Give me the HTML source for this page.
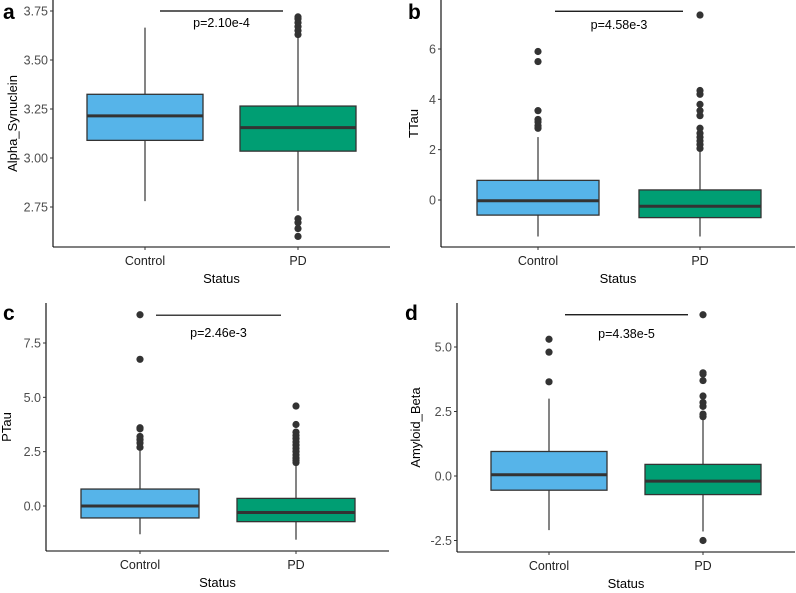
<!DOCTYPE html>
<html><head><meta charset="utf-8"><style>
body{margin:0;background:#fff;}
svg{font-family:"Liberation Sans",Arial,sans-serif;}
</style></head><body>
<svg id="fig" width="796" height="588"></svg>
<script>
const categories = ["Control","PD"];
// panel a
const aTicks=[2.75,3.00,3.25,3.50,3.75];
const aTickLabels=["2.75","3.00","3.25","3.50","3.75"];
const aControl=[2.78,3.09,3.215,3.325,3.665];
const aPD=[2.73,3.035,3.155,3.265,3.62];
const aOutControl=[];
const aOutPD=[3.63,3.65,3.67,3.69,3.71,3.72,2.60,2.64,2.67,2.69];
// panel b
const bTicks=[0,2,4,6];
const bTickLabels=["0","2","4","6"];
const bControl=[-1.45,-0.6,-0.03,0.78,2.5];
const bPD=[-1.45,-0.7,-0.25,0.4,1.95];
const bOutControl=[2.85,2.95,3.1,3.2,3.55,5.5,5.9];
const bOutPD=[2.05,2.2,2.35,2.5,2.65,2.85,3.35,3.55,3.8,4.2,4.35,7.35];
// panel c
const cTicks=[0,2.5,5,7.5];
const cTickLabels=["0.0","2.5","5.0","7.5"];
const cControl=[-1.3,-0.55,0,0.78,2.6];
const cPD=[-1.55,-0.72,-0.3,0.35,1.9];
const cOutControl=[2.7,2.9,3.05,3.2,3.55,3.6,6.75,8.8];
const cOutPD=[2.0,2.1,2.2,2.35,2.5,2.65,2.8,2.95,3.1,3.25,3.4,3.75,4.6];
// panel d
const dTicks=[-2.5,0,2.5,5];
const dTickLabels=["-2.5","0.0","2.5","5.0"];
const dControl=[-2.1,-0.55,0.05,0.95,3.0];
const dPD=[-2.15,-0.72,-0.2,0.45,2.2];
const dOutControl=[3.65,4.8,5.3];
const dOutPD=[2.3,2.4,2.7,2.85,3.1,3.7,3.95,4.0,6.25,-2.5];

const NS="http://www.w3.org/2000/svg";
const svg=document.getElementById('fig');
function mk(tag,attrs,parent,text){const e=document.createElementNS(NS,tag);for(const k in attrs)e.setAttribute(k,attrs[k]);if(text!==undefined)e.textContent=text;parent.appendChild(e);return e;}

const panels=[
 {id:'a',ytitle:'Alpha_Synuclein',tx:17,x0:53,x1:390,top:0,bot:247,v0:3.75,p0:11,v1:2.75,p1:207,cx:[145,298],hw:58,ticks:aTicks,labels:aTickLabels,boxes:[aControl,aPD],outs:[aOutControl,aOutPD],br:[160,283],brv:3.75,pText:'p=2.10e-4',pY:27,letter:[3,19]},
 {id:'b',ytitle:'TTau',tx:418,x0:441,x1:795,top:0,bot:247,v0:6,p0:49,v1:0,p1:200,cx:[538,700],hw:61,ticks:bTicks,labels:bTickLabels,boxes:[bControl,bPD],outs:[bOutControl,bOutPD],br:[555,683],brv:7.5,pText:'p=4.58e-3',pY:29,letter:[408,19]},
 {id:'c',ytitle:'PTau',tx:11,x0:46,x1:389,top:303,bot:551,v0:7.5,p0:343,v1:0,p1:506,cx:[140,296],hw:59,ticks:cTicks,labels:cTickLabels,boxes:[cControl,cPD],outs:[cOutControl,cOutPD],br:[156,281],brv:8.78,pText:'p=2.46e-3',pY:337,letter:[3,320]},
 {id:'d',ytitle:'Amyloid_Beta',tx:420,x0:457,x1:795,top:303,bot:552,v0:5,p0:347,v1:0,p1:476,cx:[549,703],hw:58,ticks:dTicks,labels:dTickLabels,boxes:[dControl,dPD],outs:[dOutControl,dOutPD],br:[565,688],brv:6.25,pText:'p=4.38e-5',pY:338,letter:[405,320]}
];
const fills=['#56B4E9','#009E73'];
panels.forEach(P=>{
  const y=v=>P.p1+(v-P.v1)*(P.p0-P.p1)/(P.v0-P.v1);
  const g=mk('g',{},svg);
  
  
  const L=mk('text',{x:P.letter[0],y:P.letter[1],'font-size':21,'font-weight':'bold',fill:'#000'},g,P.id);
  
  
  const ya=mk('line',{x1:P.x0,x2:P.x0,y1:P.top,y2:P.bot,stroke:'#000','stroke-width':1.1},g);
  
  
  const xa=mk('line',{x1:P.x0,x2:P.x1,y1:P.bot,y2:P.bot,stroke:'#000','stroke-width':1.1},g);
  
  
  P.ticks.forEach((t,i)=>{
    const yy=y(t);
    mk('line',{x1:P.x0-3,x2:P.x0,y1:yy,y2:yy,stroke:'#333','stroke-width':1},g);
    const tl=mk('text',{x:P.x0-5,y:yy+4.5,'font-size':12.5,'text-anchor':'end',fill:'#4d4d4d'},g,P.labels[i]);
    
    
  });
  categories.forEach((c,i)=>{
    const xx=P.cx[i];
    mk('line',{x1:xx,x2:xx,y1:P.bot,y2:P.bot+3,stroke:'#333','stroke-width':1},g);
    const xl=mk('text',{x:xx,y:P.bot+18,'font-size':12.5,'text-anchor':'middle',fill:'#222'},g,c);
    
    
    const b=P.boxes[i];
    const wh=mk('line',{x1:xx,x2:xx,y1:y(b[0]),y2:y(b[4]),stroke:'#333','stroke-width':1.2},g);
    
    
    const r=mk('rect',{x:xx-P.hw,y:y(b[3]),width:2*P.hw,height:y(b[1])-y(b[3]),fill:fills[i],stroke:'#333','stroke-width':1.3},g);
    
    
    const md=mk('line',{x1:xx-P.hw,x2:xx+P.hw,y1:y(b[2]),y2:y(b[2]),stroke:'#333','stroke-width':3},g);
    
    
    P.outs[i].forEach(o=>{
      const pt=mk('circle',{cx:xx,cy:y(o),r:3.6,fill:'#333'},g);
      
      
    });
  });
  const xt=mk('text',{x:(P.x0+P.x1)/2,y:P.bot+36,'font-size':13,'text-anchor':'middle',fill:'#000'},g,'Status');
  
  
  const cy=(P.top+P.bot)/2;
  const yt=mk('text',{x:0,y:0,'font-size':13,'text-anchor':'middle',fill:'#000',transform:`translate(${P.tx},${cy}) rotate(-90)`},g,P.ytitle);
  
  
  const br=mk('line',{x1:P.br[0],x2:P.br[1],y1:y(P.brv),y2:y(P.brv),stroke:'#000','stroke-width':1.2},g);
  
  
  const pt=mk('text',{x:(P.br[0]+P.br[1])/2,y:P.pY,'font-size':12.5,'text-anchor':'middle',fill:'#000'},g,P.pText);
  
  
});
</script>
</body></html>
